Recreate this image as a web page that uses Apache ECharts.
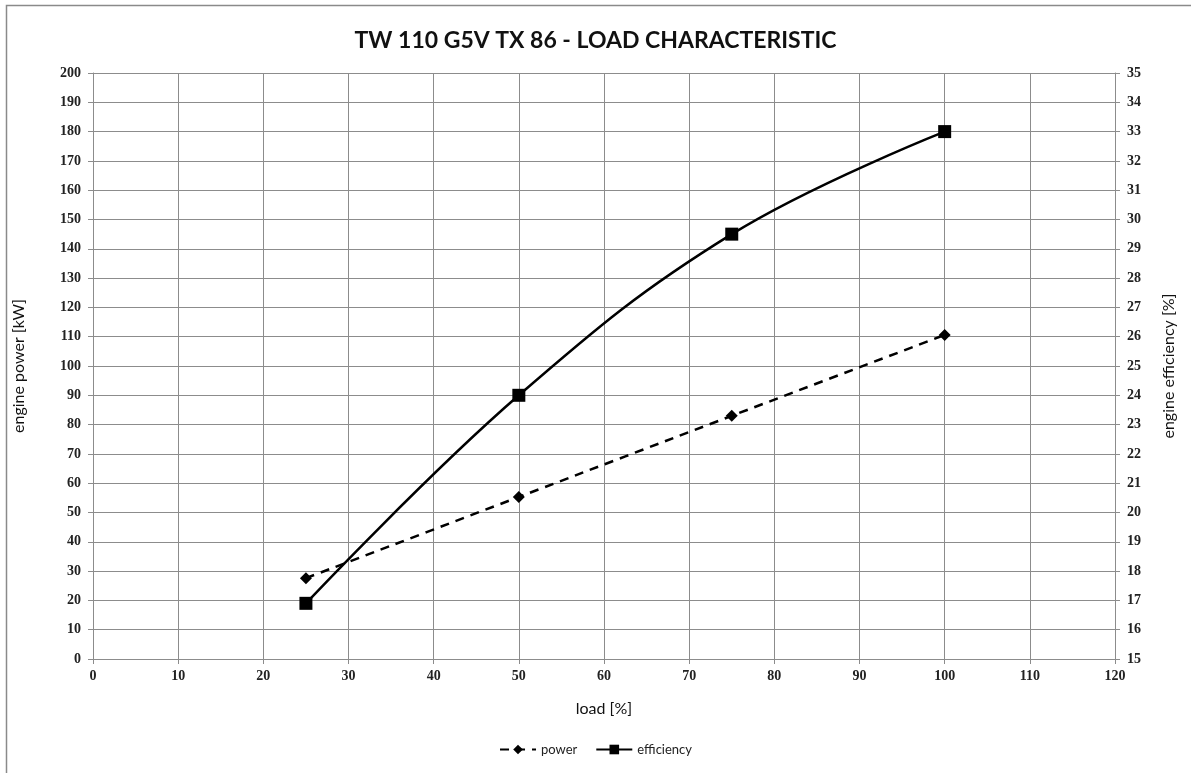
<!DOCTYPE html>
<html>
<head>
<meta charset="utf-8">
<script src="https://cdn.jsdelivr.net/npm/echarts@6/dist/echarts.min.js"></script>
<style>
html,body{margin:0;padding:0;background:#fff;}
#c{width:1191px;height:773px;}
</style>
</head>
<body>
<div id="c"></div>
<script>
const titleText = 'TW 110 G5V TX 86 - LOAD CHARACTERISTIC';
const loads = [25, 50, 75, 100];
const power = [27.6, 55.3, 83, 110.6];
const efficiency = [16.9, 24, 29.5, 33];
const seriesNames = ['power', 'efficiency'];
const xName = 'load [%]';
const yLeftName = 'engine power [kW]';
const yRightName = 'engine efficiency [%]';

const chart = echarts.init(document.getElementById('c'));
const tickFont = {fontFamily: 'Liberation Serif', fontWeight: 'bold', fontSize: 14, color: '#222'};
const nameFont = {fontFamily: 'Lato', fontSize: 16, color: '#111'};
const gridLine = {show: true, lineStyle: {color: '#8c8c8c', width: 1}};
const axisLine = {show: true, lineStyle: {color: '#8c8c8c', width: 1}};

chart.setOption({
  backgroundColor: '#fff',
  animation: false,
  graphic: [{
    type: 'rect', silent: true,
    shape: {x: 6.5, y: 5.5, width: 1300, height: 900},
    style: {fill: 'none', stroke: '#8a8a8a', lineWidth: 1.5}
  }],
  title: {
    text: titleText, left: 'center', top: 24,
    textStyle: {fontFamily: 'Lato', fontWeight: 'bold', fontSize: 23, color: '#111'}
  },
  legend: {
    bottom: 12, left: 'center', itemGap: 18, itemWidth: 36, itemHeight: 12,
    textStyle: {fontFamily: 'Lato', fontSize: 13, color: '#222'},
    data: seriesNames
  },
  grid: {left: 93, right: 76, top: 73, bottom: 114, containLabel: false},
  xAxis: {
    type: 'value', min: 0, max: 120, interval: 10,
    name: xName, nameLocation: 'middle', nameGap: 42, nameTextStyle: nameFont,
    axisLine: axisLine, axisTick: {show: true, length: 5, lineStyle: {color: '#8c8c8c'}},
    axisLabel: Object.assign({margin: 10}, tickFont),
    splitLine: gridLine
  },
  yAxis: [{
    type: 'value', min: 0, max: 200, interval: 10, position: 'left',
    name: yLeftName, nameLocation: 'middle', nameGap: 66, nameTextStyle: nameFont,
    axisLine: axisLine, axisTick: {show: true, length: 5, lineStyle: {color: '#8c8c8c'}},
    axisLabel: Object.assign({margin: 12}, tickFont),
    splitLine: gridLine
  }, {
    type: 'value', min: 15, max: 35, interval: 1, position: 'right',
    name: yRightName, nameLocation: 'middle', nameGap: 46, nameTextStyle: nameFont,
    axisLine: axisLine, axisTick: {show: true, length: 5, lineStyle: {color: '#8c8c8c'}},
    axisLabel: Object.assign({margin: 12}, tickFont),
    splitLine: {show: false}
  }],
  series: [{
    name: seriesNames[0], type: 'line', yAxisIndex: 0, smooth: 0.3,
    data: loads.map((x, i) => [x, power[i]]),
    symbol: 'diamond', symbolSize: 12,
    itemStyle: {color: '#000'},
    lineStyle: {color: '#000', width: 2.5, type: [9, 7]},
    z: 3
  }, {
    name: seriesNames[1], type: 'line', yAxisIndex: 1, smooth: 0.4,
    data: loads.map((x, i) => [x, efficiency[i]]),
    symbol: 'rect', symbolSize: 13,
    itemStyle: {color: '#000'},
    lineStyle: {color: '#000', width: 2.5},
    z: 4
  }]
});
</script>
</body>
</html>
